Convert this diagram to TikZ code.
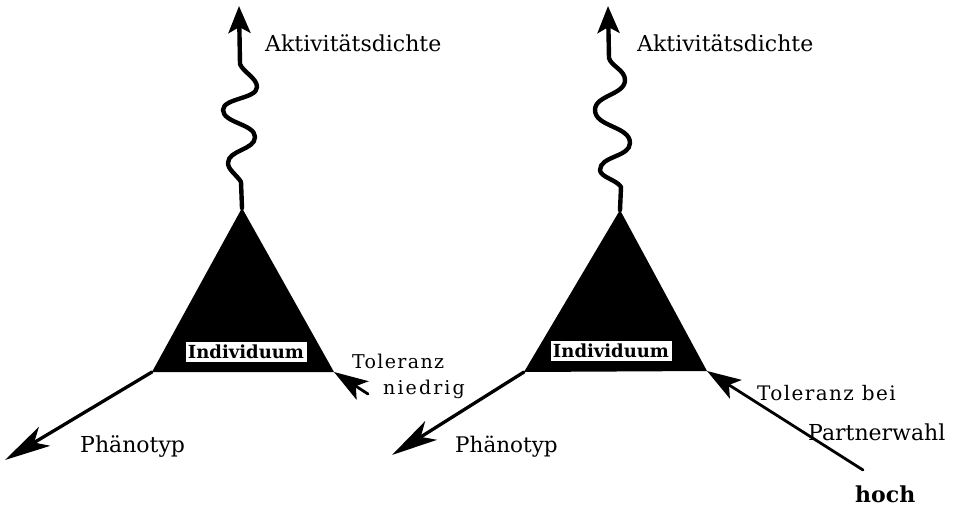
\documentclass[tikz,border=0pt]{standalone}
\usepackage{fontspec}
\setmainfont{DejaVu Serif}
\newfontfamily\spacedA[LetterSpace=7]{DejaVu Serif}
\newfontfamily\spacedB[LetterSpace=11]{DejaVu Serif}
\usetikzlibrary{arrows.meta}
\begin{document}
\begin{tikzpicture}[x=1pt,y=-1pt,
  lbl/.style={inner sep=0pt, anchor=base west},
  fs/.style={font=\fontsize{#1}{#1}\selectfont},
  ind/.style={fill=white, draw=black, line width=0.8pt, inner sep=0pt,
     minimum width=122pt, minimum height=21pt,
     font=\bfseries\fontsize{18}{18}\selectfont},
  wavy/.style={line width=4.4pt, line cap=round, line join=round,
     -{Stealth[length=27pt,width=22pt,inset=6pt]}},
  pheno/.style={line width=3.3pt, line cap=round,
     -{Stealth[length=46pt,width=22pt,inset=12pt]}},
  tol/.style={line width=2.8pt, line cap=round,
     -{Stealth[length=34pt,width=22pt,inset=8pt]}},
  tri/.style={fill=black}]
\useasboundingbox (0,0) rectangle (956,509);

% ---------- left diagram ----------
\coordinate (LA) at (242,208);
\coordinate (LB) at (152,372);
\coordinate (LC) at (334,372);
\fill[tri] (LA) -- (LB) -- (LC) -- cycle;
\node[ind] (Lind) at (246,352) {Individuum};

\coordinate (LW) at (241,182);
\coordinate (Ltop) at (239,6);
\draw[wavy] (LA) -- (LW)
  .. controls (237,175) and (228,170) .. (228,163)
  .. controls (228,150) and (255,150) .. (255,137)
  .. controls (255,124) and (223,123) .. (223,110)
  .. controls (223,98) and (257,99) .. (257,87)
  .. controls (257,78) and (243,72) .. (240,64) -- (Ltop);
\node[lbl, fs=22] (LAkt) at (265,51) {Aktivitätsdichte};

\coordinate (LPtip) at (5,460);
\draw[pheno] (LB) -- (LPtip);
\node[lbl, fs=22] (LPh) at (80,452) {Phänotyp};

\coordinate (LTend) at (368,394);
\draw[tol] (LTend) -- (LC);
\node[lbl, font=\spacedA\fontsize{19}{19}\selectfont] (LTol) at (352,368) {Toleranz};
\node[lbl, font=\spacedB\fontsize{19}{19}\selectfont] (LNied) at (383,394) {niedrig};

% ---------- right diagram ----------
\coordinate (RA) at (620,210);
\coordinate (RB) at (524,372);
\coordinate (RC) at (707,371);
\fill[tri] (RA) -- (RB) -- (RC) -- cycle;
\node[ind] (Rind) at (611,351) {Individuum};

\coordinate (RW) at (621,187);
\coordinate (Rtop) at (608,6);
\draw[wavy] (RA) -- (RW)
  .. controls (617,180) and (600,177) .. (600,170)
  .. controls (600,156) and (630,157) .. (630,143)
  .. controls (630,126) and (595,127) .. (595,110)
  .. controls (595,95) and (625,95) .. (625,80)
  .. controls (625,70) and (611,66) .. (609,58) -- (Rtop);
\node[lbl, fs=22] (RAkt) at (637,51) {Aktivitätsdichte};

\coordinate (RPtip) at (392,455);
\draw[pheno] (RB) -- (RPtip);
\node[lbl, fs=21.5] (RPh) at (455,452) {Phänotyp};

\coordinate (RTend) at (863,470);
\draw[tol] (RTend) -- (RC);
\node[lbl, font=\spacedA\fontsize{20}{20}\selectfont] (RTol) at (757,400) {Toleranz\hspace{8pt}bei};
\node[lbl, fs=22] (RPart) at (808,440) {Partnerwahl};
\node[lbl, font=\bfseries\fontsize{22}{22}\selectfont] (Rhoch) at (855,502) {hoch};
\end{tikzpicture}
\end{document}
